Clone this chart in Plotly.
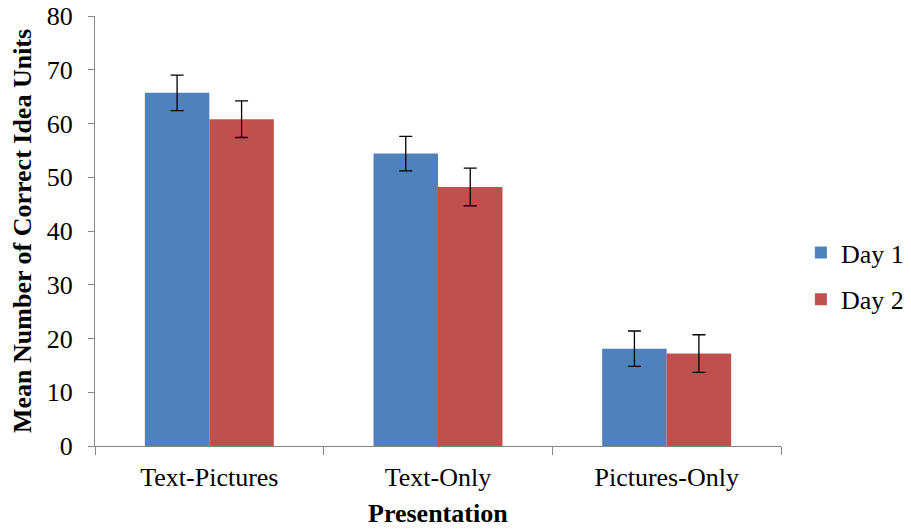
import plotly.graph_objects as go

categories = ["Text-Pictures", "Text-Only", "Pictures-Only"]
day1 = [65.7, 54.4, 18.1]
day1_err = [3.3, 3.2, 3.3]
day2 = [60.8, 48.2, 17.2]
day2_err = [3.4, 3.5, 3.5]
yticks = [0, 10, 20, 30, 40, 50, 60, 70, 80]

font_family = "Liberation Serif, Times New Roman, serif"
axis_col = "#868686"

fig = go.Figure()
fig.add_trace(go.Bar(
    name="Day 1", x=categories, y=day1, legendgroup="d1",
    marker=dict(color="#4F81BD", line=dict(width=0)),
    error_y=dict(type="data", array=day1_err, color="black", thickness=1.3, width=6.5),
))
fig.add_trace(go.Bar(
    name="Day 2", x=categories, y=day2, legendgroup="d2",
    marker=dict(color="#C0504D", line=dict(width=0)),
    error_y=dict(type="data", array=day2_err, color="black", thickness=1.3, width=6.5),
))

fig.update_layout(
    width=911, height=529,
    margin=dict(l=95, r=130, t=16, b=83, autoexpand=False),
    paper_bgcolor="white", plot_bgcolor="white",
    barmode="group", bargap=0.436, bargroupgap=0,
    font=dict(family=font_family, size=26, color="black"),
    showlegend=True,
    legend=dict(x=1.029, y=0.395, xanchor="left", yanchor="middle",
                font=dict(size=26), tracegroupgap=10, itemwidth=30,
                bgcolor="rgba(0,0,0,0)"),
    xaxis=dict(
        showline=True, linecolor=axis_col, linewidth=1.3,
        ticks="outside", tickson="boundaries", ticklen=8, tickcolor=axis_col,
        tickfont=dict(size=26), automargin=False, ticklabelstandoff=8,
        ticklabeloverflow="allow", showgrid=False,
    ),
    yaxis=dict(
        range=[0, 80], tickvals=yticks, ticktext=[str(v) for v in yticks],
        showline=True, linecolor=axis_col, linewidth=1.3,
        ticks="outside", ticklen=6, tickcolor=axis_col, ticklabelstandoff=10,
        ticklabeloverflow="allow",
        tickfont=dict(size=26), showgrid=False, zeroline=False, automargin=False,
    ),
    annotations=[
        dict(text="<b>Presentation</b>", xref="paper", yref="paper",
             x=0.5, y=0, yshift=-67, xanchor="center", yanchor="middle",
             showarrow=False, font=dict(size=26)),
        dict(text="<b>Mean Number of Correct Idea Units</b>", xref="paper", yref="paper",
             x=0, y=0.5, xshift=-73, xanchor="center", yanchor="middle", textangle=-90,
             showarrow=False, font=dict(size=26)),
    ],
)

fig.write_html("out.html", config={"displayModeBar": False},
               post_script="document.body.style.margin='0';")
